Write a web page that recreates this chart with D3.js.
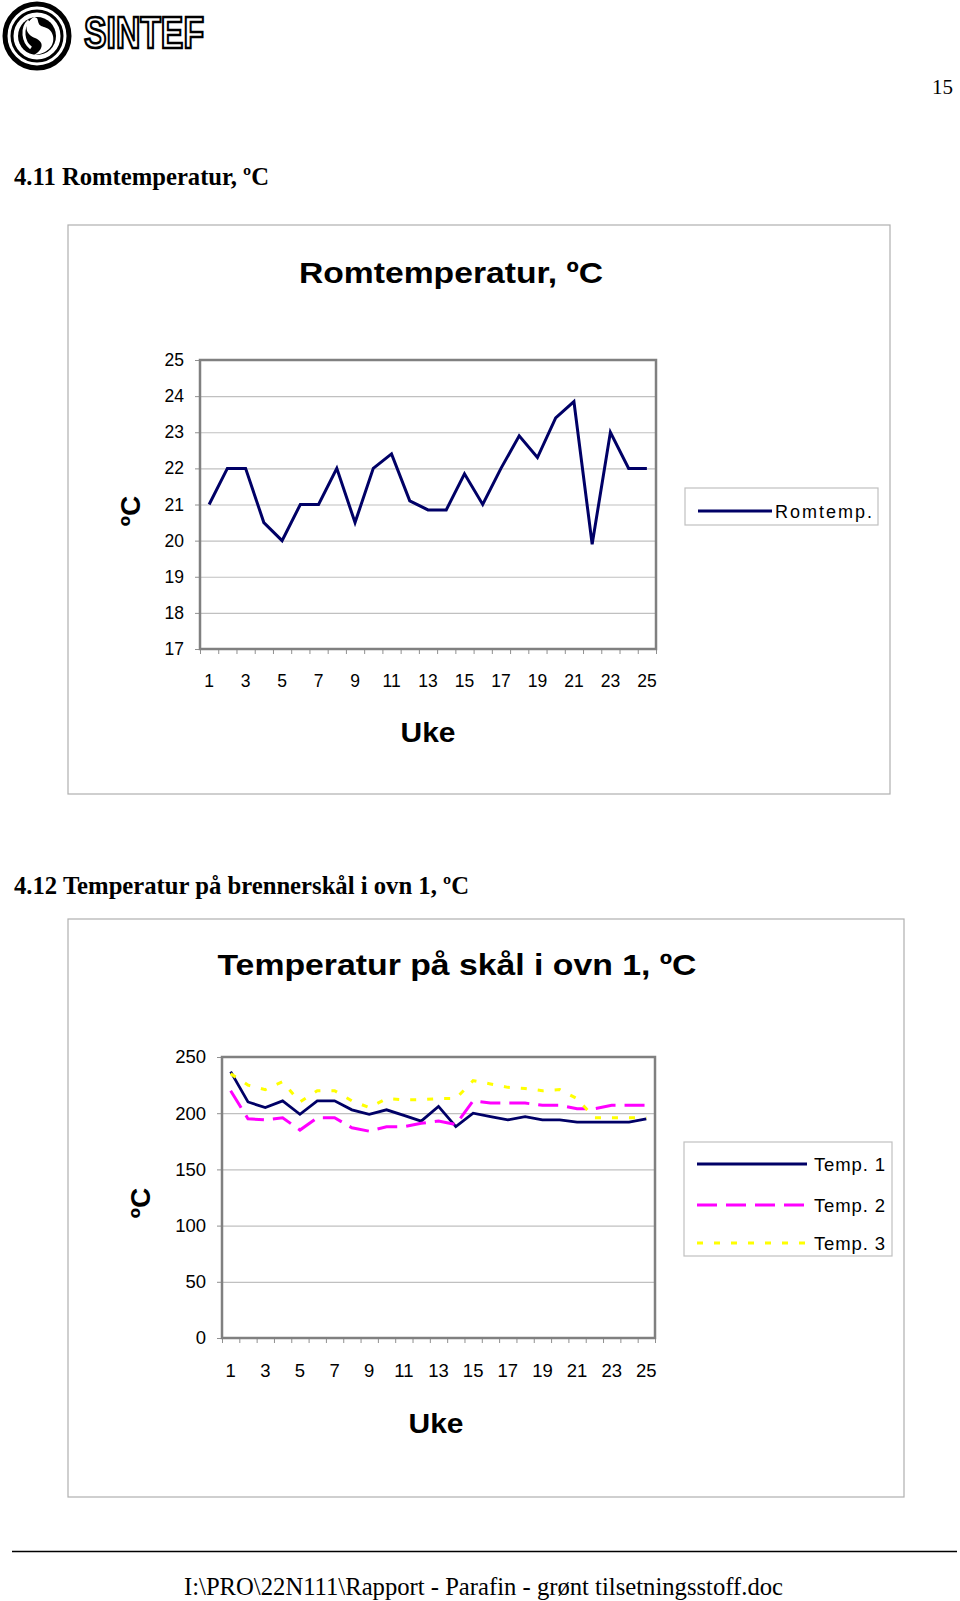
<!DOCTYPE html>
<html>
<head>
<meta charset="utf-8">
<script src="https://cdn.jsdelivr.net/npm/d3@7"></script>
<style>
  body { margin: 0; background: #fff; }
  svg { display: block; }
</style>
</head>
<body>
<div id="page"></div>
<script>
// week numbers on the x axis
const weeks = [1, 2, 3, 4, 5, 6, 7, 8, 9, 10, 11, 12, 13, 14, 15, 16, 17, 18, 19, 20, 21, 22, 23, 24, 25];
const weekLabels = [1, 3, 5, 7, 9, 11, 13, 15, 17, 19, 21, 23, 25];

// 4.11 room temperature
const romtemp = [21, 22, 22, 20.5, 20, 21, 21, 22, 20.5, 22, 22.4, 21.1, 20.85, 20.85, 21.85, 21, 22, 22.9, 22.3, 23.4, 23.85, 19.9, 23, 22, 22];
const romTicks = [17, 18, 19, 20, 21, 22, 23, 24, 25];

// 4.12 burner bowl temperature, oven 1
const temp1 = [237, 210, 205, 211, 199, 211, 211, 203, 199, 203, 198, 193, 206, 188, 200, 197, 194, 197, 194, 194, 192, 192, 192, 192, 195];
const temp2 = [220, 195, 194, 196, 185, 196, 196, 187, 184, 188, 188, 191, 193, 190, 211, 209, 209, 209, 207, 207, 204, 204, 207, 207, 207];
const temp3 = [235, 225, 221, 228, 210, 220, 220, 211, 205, 213, 212, 212, 213, 213, 229, 226, 223, 222, 220, 221, 213, 196, 196, 196, 196];
const ovnTicks = [0, 50, 100, 150, 200, 250];

const W = 960, H = 1601;
const sans = "Arial, 'Liberation Sans', sans-serif";
const serif = "'Times New Roman', 'Liberation Serif', serif";

const svg = d3.select("#page").append("svg")
  .attr("width", W)
  .attr("height", H);

svg.append("rect").attr("width", W).attr("height", H).attr("fill", "#fff");

// --- page header: logo, page number
function drawLogo() {
  const g = svg.append("g").attr("transform", "translate(37,36)");
  g.append("circle").attr("r", 32).attr("fill", "none").attr("stroke", "#000").attr("stroke-width", 5);
  g.append("circle").attr("r", 25).attr("fill", "none").attr("stroke", "#000").attr("stroke-width", 3);
  g.append("circle").attr("r", 19).attr("fill", "#000");
  g.append("path")
    .attr("d", "M-3,-19 C-14,-12 -12,-2 -2,2 C8,6 6,14 -3,19 C10,18 18,10 16,0 C14,-10 4,-8 2,-12 C0,-16 2,-18 -3,-19 Z")
    .attr("fill", "#fff");
  g.append("path")
    .attr("d", "M-8,-15 C-16,-8 -14,6 -6,12")
    .attr("fill", "none").attr("stroke", "#fff").attr("stroke-width", 3);

  svg.append("text")
    .attr("x", 84).attr("y", 48)
    .attr("font-family", sans).attr("font-weight", "bold").attr("font-size", 44)
    .attr("fill", "#fff").attr("stroke", "#000").attr("stroke-width", 2.6)
    .attr("textLength", 120).attr("lengthAdjust", "spacingAndGlyphs")
    .text("SINTEF");
}
drawLogo();

svg.append("text")
  .attr("x", 953).attr("y", 94).attr("text-anchor", "end")
  .attr("font-family", serif).attr("font-size", 21)
  .text("15");

function heading(text, x, y, len) {
  svg.append("text")
    .attr("x", x).attr("y", y)
    .attr("font-family", serif).attr("font-weight", "bold").attr("font-size", 25)
    .attr("textLength", len).attr("lengthAdjust", "spacingAndGlyphs")
    .text(text);
}
heading("4.11 Romtemperatur, ºC", 14, 185, 255);
heading("4.12 Temperatur på brennerskål i ovn 1, ºC", 14, 894, 455);

// --- generic Excel-style line chart
function drawChart(cfg) {
  const g = svg.append("g");

  g.append("rect")
    .attr("x", cfg.box[0]).attr("y", cfg.box[1])
    .attr("width", cfg.box[2] - cfg.box[0]).attr("height", cfg.box[3] - cfg.box[1])
    .attr("fill", "#fff").attr("stroke", "#b0b0b0").attr("stroke-width", 1.2);

  const [left, top, right, bottom] = cfg.plot;

  const x = d3.scaleBand().domain(weeks).range([left, right]).padding(0);
  const xEdge = d3.scaleLinear().domain([0, weeks.length]).range([left, right]);
  const y = d3.scaleLinear().domain(cfg.yDomain).range([bottom, top]);

  // gridlines
  g.append("g")
    .attr("transform", `translate(${left},0)`)
    .call(d3.axisLeft(y).tickValues(cfg.yTicks).tickSize(-(right - left)).tickFormat(""))
    .call(a => a.select(".domain").remove())
    .call(a => a.selectAll("line").attr("stroke", "#c0c0c0").attr("stroke-width", 1.2));

  // y axis ticks and labels
  g.append("g")
    .attr("transform", `translate(${left},0)`)
    .call(d3.axisLeft(y).tickValues(cfg.yTicks).tickSize(5).tickPadding(cfg.yPad))
    .call(a => a.select(".domain").remove())
    .call(a => a.selectAll("line").attr("stroke", "#909090"))
    .call(a => a.selectAll("text")
      .attr("font-family", sans).attr("font-size", cfg.tickFont).attr("fill", "#000"));

  // x tick marks at category edges
  g.append("g")
    .attr("transform", `translate(0,${bottom})`)
    .call(d3.axisBottom(xEdge).tickValues(d3.range(0, weeks.length + 1)).tickSize(5).tickFormat(""))
    .call(a => a.select(".domain").remove())
    .call(a => a.selectAll("line").attr("stroke", "#909090"));

  // x labels, every other week
  g.append("g")
    .attr("transform", `translate(0,${bottom})`)
    .call(d3.axisBottom(x).tickValues(weekLabels).tickSize(0).tickPadding(cfg.xPad))
    .call(a => a.select(".domain").remove())
    .call(a => a.selectAll("text")
      .attr("font-family", sans).attr("font-size", cfg.tickFont).attr("fill", "#000"));

  // plot frame
  g.append("rect")
    .attr("x", left).attr("y", top)
    .attr("width", right - left).attr("height", bottom - top)
    .attr("fill", "none").attr("stroke", "#808080").attr("stroke-width", 2.5);

  // series
  const line = d3.line()
    .x((d, i) => x(weeks[i]) + x.bandwidth() / 2)
    .y(d => y(d));

  cfg.series.forEach(s => {
    g.append("path")
      .datum(s.values)
      .attr("d", line)
      .attr("fill", "none")
      .attr("stroke", s.color)
      .attr("stroke-width", s.width)
      .attr("stroke-dasharray", s.dash || null)
      .attr("stroke-linejoin", "miter");
  });

  // titles
  g.append("text")
    .attr("x", cfg.title.x).attr("y", cfg.title.y).attr("text-anchor", "middle")
    .attr("font-family", sans).attr("font-weight", "bold").attr("font-size", 30)
    .attr("textLength", cfg.title.len).attr("lengthAdjust", "spacingAndGlyphs")
    .text(cfg.title.text);

  g.append("text")
    .attr("x", cfg.xTitle.x).attr("y", cfg.xTitle.y).attr("text-anchor", "middle")
    .attr("font-family", sans).attr("font-weight", "bold").attr("font-size", 28)
    .attr("textLength", 55).attr("lengthAdjust", "spacingAndGlyphs")
    .text("Uke");

  g.append("text")
    .attr("transform", `translate(${cfg.yTitle.x},${cfg.yTitle.y}) rotate(-90)`)
    .attr("text-anchor", "middle")
    .attr("font-family", sans).attr("font-weight", "bold").attr("font-size", 28)
    .text("ºC");

  // legend
  const lg = cfg.legend;
  g.append("rect")
    .attr("x", lg.box[0]).attr("y", lg.box[1])
    .attr("width", lg.box[2] - lg.box[0]).attr("height", lg.box[3] - lg.box[1])
    .attr("fill", "#fff").attr("stroke", "#c0c0c0").attr("stroke-width", 1.2);

  cfg.series.forEach((s, i) => {
    const ly = lg.rows[i];
    g.append("line")
      .attr("x1", lg.line[0]).attr("x2", lg.line[1])
      .attr("y1", ly).attr("y2", ly)
      .attr("stroke", s.color).attr("stroke-width", s.width)
      .attr("stroke-dasharray", s.dash || null);
    g.append("text")
      .attr("x", lg.textX).attr("y", ly + 7)
      .attr("font-family", sans).attr("font-size", lg.font)
      .attr("textLength", lg.textLen).attr("lengthAdjust", "spacing")
      .text(s.name);
  });
}

drawChart({
  box: [68, 225, 890, 794],
  plot: [200, 360, 656, 649],
  yDomain: [17, 25],
  yTicks: romTicks,
  yPad: 11,
  xPad: 26,
  tickFont: 17.5,
  title: { text: "Romtemperatur, ºC", x: 451, y: 283, len: 304 },
  xTitle: { x: 428, y: 742 },
  yTitle: { x: 140, y: 511 },
  series: [
    { name: "Romtemp.", values: romtemp, color: "#000066", width: 3 }
  ],
  legend: { box: [685, 488, 878, 525], line: [698, 772], rows: [511], textX: 775, textLen: 97, font: 18 }
});

drawChart({
  box: [68, 919, 904, 1497],
  plot: [222, 1057, 655, 1338],
  yDomain: [0, 250],
  yTicks: ovnTicks,
  yPad: 11,
  xPad: 26,
  tickFont: 18.5,
  title: { text: "Temperatur på skål i ovn 1, ºC", x: 457, y: 975, len: 479 },
  xTitle: { x: 436, y: 1433 },
  yTitle: { x: 150, y: 1203 },
  series: [
    { name: "Temp. 1", values: temp1, color: "#000066", width: 2.8 },
    { name: "Temp. 2", values: temp2, color: "#ff00ff", width: 3, dash: "20,9" },
    { name: "Temp. 3", values: temp3, color: "#ffff00", width: 3, dash: "6,11" }
  ],
  legend: { box: [684, 1142, 892, 1256], line: [697, 807], rows: [1164, 1205, 1243], textX: 814, textLen: 71, font: 18.5 }
});

// --- footer
svg.append("line")
  .attr("x1", 12).attr("x2", 957).attr("y1", 1551.5).attr("y2", 1551.5)
  .attr("stroke", "#000").attr("stroke-width", 1.5);

svg.append("text")
  .attr("x", 184).attr("y", 1595)
  .attr("font-family", serif).attr("font-size", 25)
  .attr("textLength", 599).attr("lengthAdjust", "spacingAndGlyphs")
  .text("I:\\PRO\\22N111\\Rapport - Parafin - grønt tilsetningsstoff.doc");
</script>
</body>
</html>
